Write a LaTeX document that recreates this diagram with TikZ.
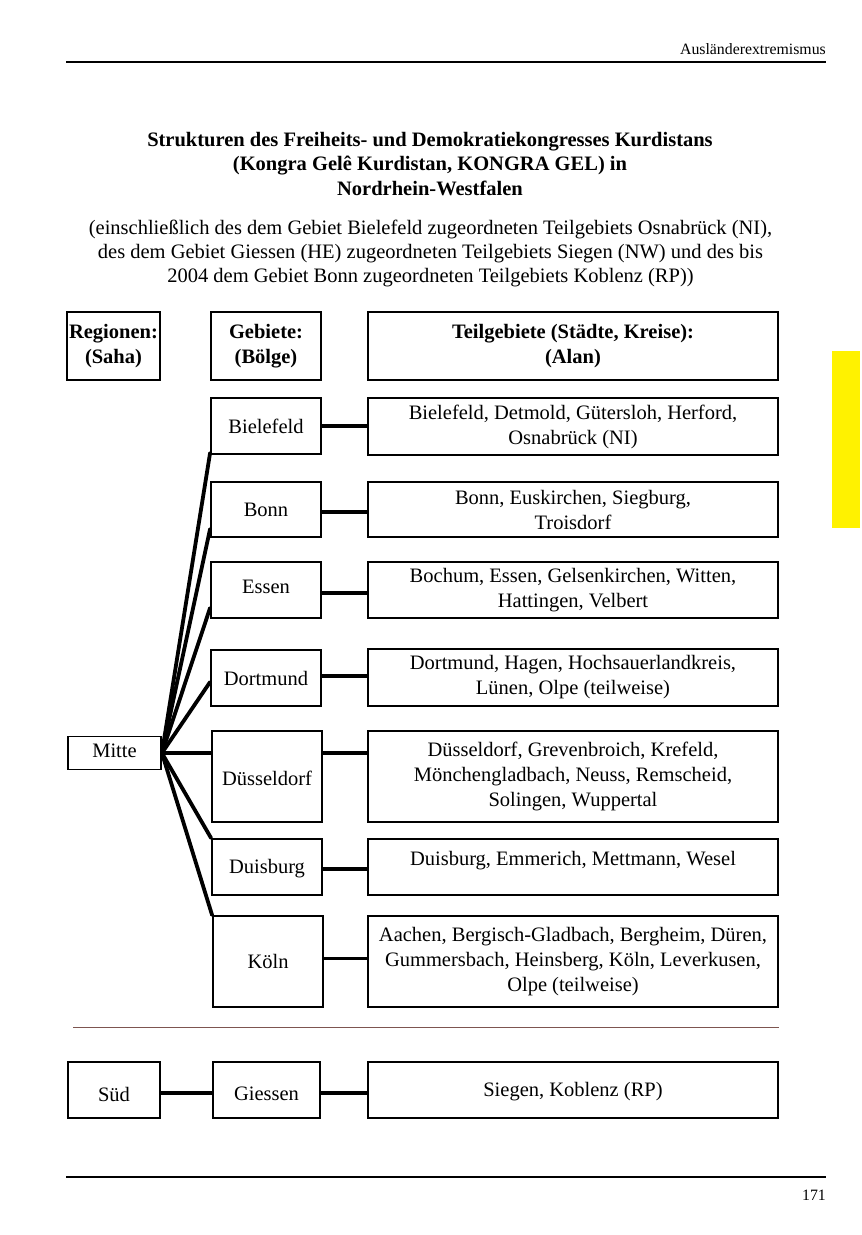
\documentclass[tikz,border=0pt]{standalone}
\usepackage{fontspec}
\setmainfont{Liberation Serif}
\usetikzlibrary{calc}
\definecolor{rulebrown}{RGB}{125,85,80}
\definecolor{tabyellow}{RGB}{255,242,0}
\newcommand\shiftup[2]{\raisebox{#1}[\height][\depth]{#2}}
\tikzset{
  bx/.style={draw=black, line width=1.8pt, inner sep=0pt, align=center,
    font=\fontsize{20.5}{25}\selectfont},
  hd/.style={bx, font=\fontsize{20.5}{24.5}\selectfont\bfseries},
  conn/.style={line width=3.6pt, line cap=butt},
  fan/.style={line width=3.8pt, line cap=round},
}
\begin{document}
\begin{tikzpicture}[x=1pt,y=-1pt]
\useasboundingbox (0,0) rectangle (862,1235);
\fill[white] (0,0) rectangle (862,1235);

% page header / footer
\node[anchor=base east, inner sep=0pt, font=\fontsize{15.8}{18}\selectfont] (runhead) at (826,54) {Ausländerextremismus};
\coordinate (hl) at (66,62); \coordinate (hr) at (826,62);
\draw[line width=1.2pt] (hl) -- (hr);
\coordinate (fl) at (66,1177); \coordinate (fr) at (826,1177);
\draw[line width=1.2pt] (fl) -- (fr);
\node[anchor=base east, inner sep=0pt, font=\fontsize{15.8}{18}\selectfont] (pageno) at (826,1200) {171};
\fill[tabyellow] (832,351) rectangle (860,528);

% titles
\node[align=center, inner sep=0pt, font=\fontsize{20.5}{24.5}\selectfont\bfseries] (title) at (430,164)
  {Strukturen des Freiheits- und Demokratiekongresses Kurdistans\\
   (Kongra Gelê Kurdistan, KONGRA GEL) in\\
   Nordrhein-Westfalen};
\node[align=center, inner sep=0pt, font=\fontsize{20.5}{24}\selectfont] (subtitle) at (430.5,253)
  {(einschließlich des dem Gebiet Bielefeld zugeordneten Teilgebiets Osnabrück (NI),\\
   des dem Gebiet Giessen (HE) zugeordneten Teilgebiets Siegen (NW) und des bis\\
   2004 dem Gebiet Bonn zugeordneten Teilgebiets Koblenz (RP))};

% column headers
\node[hd, minimum width=93pt, minimum height=68pt] (hreg) at (113.5,346) {Regionen:\\(Saha)};
\node[hd, minimum width=110pt, minimum height=68pt] (hgeb) at (266,346) {Gebiete:\\(Bölge)};
\node[hd, minimum width=410pt, minimum height=68pt] (hteil) at (573,346) {Teilgebiete (Städte, Kreise):\\(Alan)};

% Gebiete
\node[bx, minimum width=110pt, minimum height=56pt] (gbi) at (266,426) {Bielefeld};
\node[bx, minimum width=110pt, minimum height=55pt] (gbo) at (266,509.5) {Bonn};
\node[bx, minimum width=110pt, minimum height=56pt] (ges) at (266,590) {\shiftup{3pt}{Essen}};
\node[bx, minimum width=110pt, minimum height=56pt] (gdo) at (266,678) {Dortmund};
\node[bx, minimum width=110pt, minimum height=91pt] (gds) at (267,776.5) {\shiftup{-2pt}{Düsseldorf}};
\node[bx, minimum width=110pt, minimum height=56pt] (gdu) at (267,867) {\shiftup{-2pt}{Duisburg}};
\node[bx, minimum width=110pt, minimum height=91pt] (gko) at (268,961.5) {Köln};

% Teilgebiete
\node[bx, minimum width=410pt, minimum height=57pt] (tbi) at (573,426.5) {Bielefeld, Detmold, Gütersloh, Herford,\\Osnabrück (NI)};
\node[bx, minimum width=410pt, minimum height=55pt] (tbo) at (573,509.5) {Bonn, Euskirchen, Siegburg,\\Troisdorf};
\node[bx, minimum width=410pt, minimum height=56pt] (tes) at (573,590) {Bochum, Essen, Gelsenkirchen, Witten,\\Hattingen, Velbert};
\node[bx, minimum width=410pt, minimum height=57pt] (tdo) at (573,677.5) {Dortmund, Hagen, Hochsauerlandkreis,\\Lünen, Olpe (teilweise)};
\node[bx, minimum width=410pt, minimum height=91pt] (tds) at (573,776.5) {Düsseldorf, Grevenbroich, Krefeld,\\Mönchengladbach, Neuss, Remscheid,\\Solingen, Wuppertal};
\node[bx, minimum width=410pt, minimum height=56pt] (tdu) at (573,867) {\shiftup{6pt}{Duisburg, Emmerich, Mettmann, Wesel}};
\node[bx, minimum width=410pt, minimum height=91pt] (tko) at (573,961.5) {Aachen, Bergisch-Gladbach, Bergheim, Düren,\\Gummersbach, Heinsberg, Köln, Leverkusen,\\Olpe (teilweise)};

% Mitte
\node[bx, minimum width=93pt, minimum height=33pt] (mitte) at (114.5,753) {\shiftup{2pt}{Mitte}};

% fan from Mitte
\draw[fan] (mitte.east) -- ($(gbi.south west)+(0,-2)$);
\draw[fan] (mitte.east) -- ($(gbo.south west)+(0,-9)$);
\draw[fan] (mitte.east) -- ($(ges.south west)+(0,-11)$);
\draw[fan] (mitte.east) -- ($(gdo.west)+(0,4)$);
\draw[conn] (mitte.east) -- (mitte.east -| gds.west);
\draw[fan] (mitte.east) -- (gdu.north west);
\draw[fan] (mitte.east) -- (gko.north west);

% Gebiete to Teilgebiete
\draw[conn] (gbi.east) -- (gbi.east -| tbi.west);
\draw[conn] ($(gbo.east)+(0,2.5)$) -- ($(gbo.east -| tbo.west)+(0,2.5)$);
\draw[conn] ($(ges.east)+(0,3)$) -- ($(ges.east -| tes.west)+(0,3)$);
\draw[conn] ($(gdo.east)+(0,-2)$) -- ($(gdo.east -| tdo.west)+(0,-2)$);
\draw[conn] (mitte.east -| gds.east) -- (mitte.east -| tds.west);
\draw[conn] ($(gdu.east)+(0,2)$) -- ($(gdu.east -| tdu.west)+(0,2)$);
\draw[conn] ($(gko.east)+(0,-3)$) -- ($(gko.east -| tko.west)+(0,-3)$);

% separator
\coordinate (sl) at (73,1027); \coordinate (sr) at (779,1027);
\draw[rulebrown, line width=1pt] (sl) -- (sr);

% Sued row
\node[bx, minimum width=92pt, minimum height=56pt] (sued) at (114,1090) {\shiftup{-4pt}{Süd}};
\node[bx, minimum width=107pt, minimum height=56pt] (gie) at (266.5,1090) {\shiftup{-4pt}{Giessen}};
\node[bx, minimum width=410pt, minimum height=56pt] (tsi) at (573,1090) {\shiftup{-2pt}{Siegen, Koblenz (RP)}};
\draw[conn] ($(sued.east)+(0,3)$) -- ($(gie.west)+(0,3)$);
\draw[conn] ($(gie.east)+(0,3)$) -- ($(tsi.west)+(0,3)$);
\end{tikzpicture}
\end{document}
